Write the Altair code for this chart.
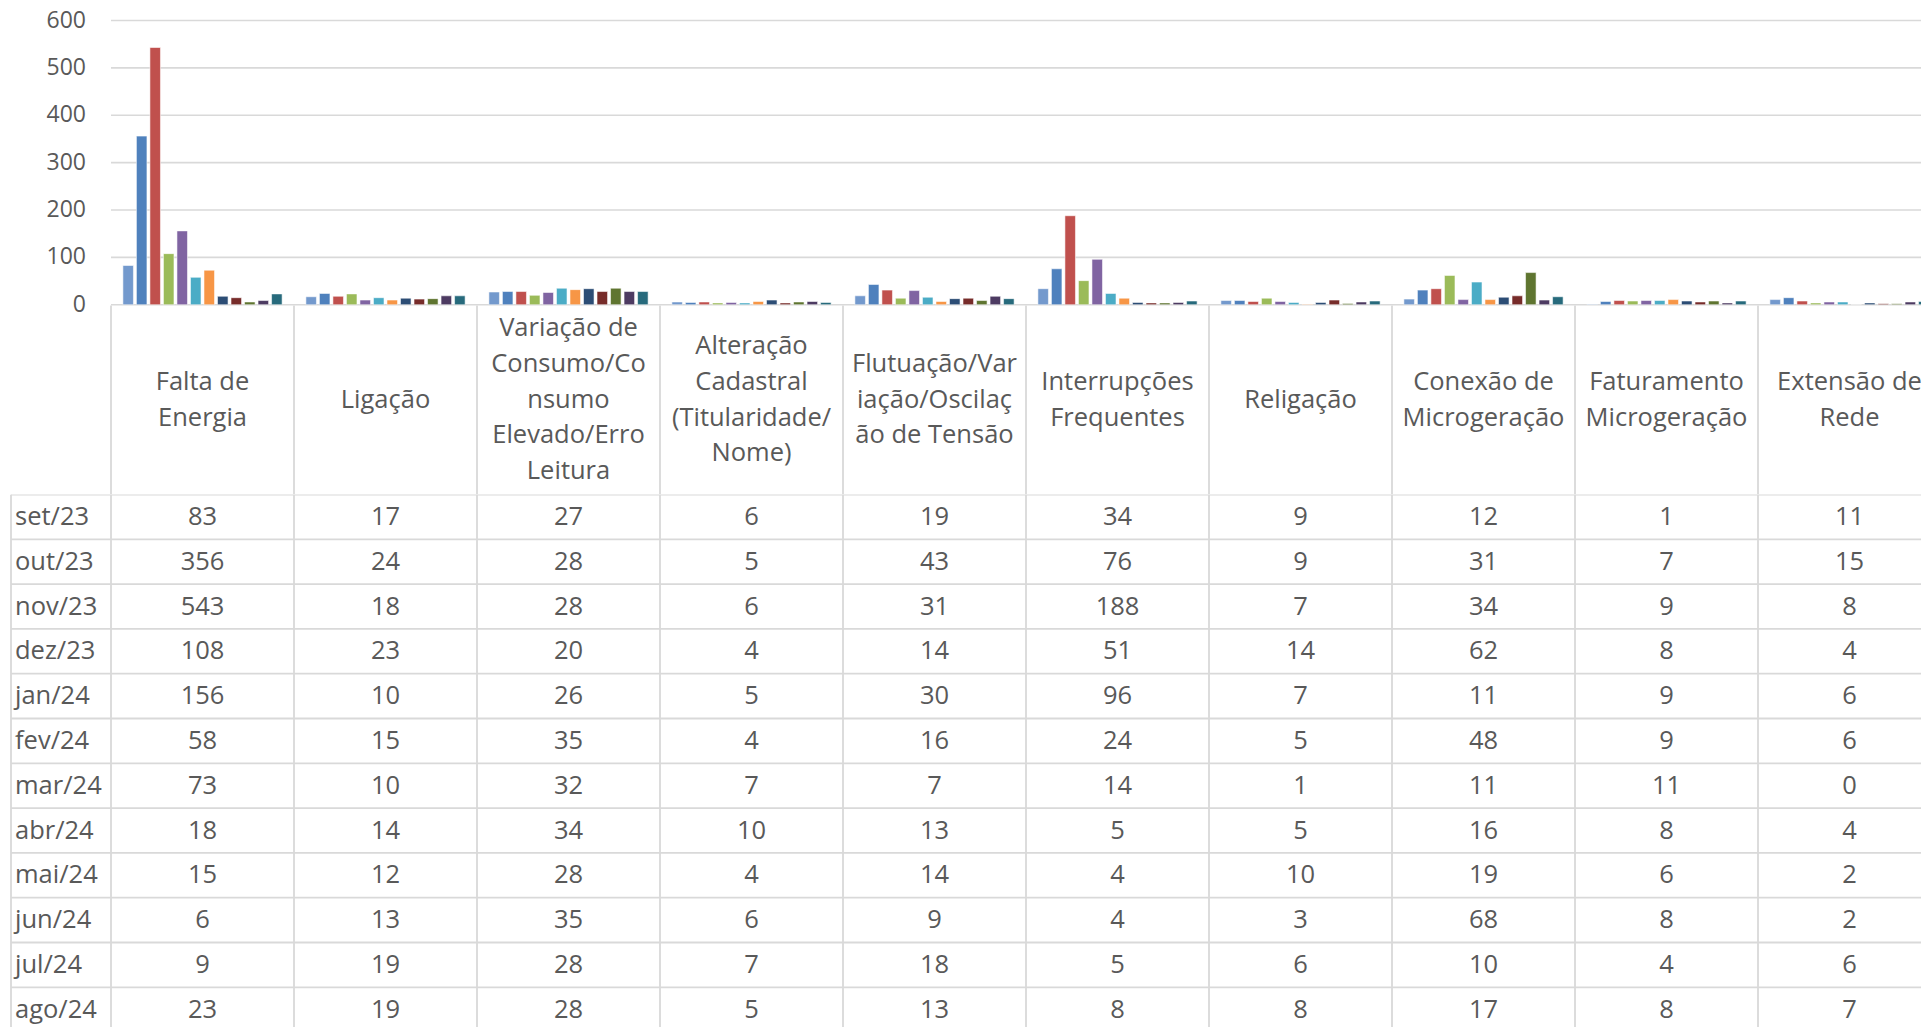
import altair as alt
import pandas as pd

months = ["set/23", "out/23", "nov/23", "dez/23", "jan/24", "fev/24",
          "mar/24", "abr/24", "mai/24", "jun/24", "jul/24", "ago/24"]

# category names with the line breaks used in the table header
categories = [
    "Falta de\nEnergia",
    "Ligação",
    "Variação de\nConsumo/Co\nnsumo\nElevado/Erro\nLeitura",
    "Alteração\nCadastral\n(Titularidade/\nNome)",
    "Flutuação/Var\niação/Oscilaç\não de Tensão",
    "Interrupções\nFrequentes",
    "Religação",
    "Conexão de\nMicrogeração",
    "Faturamento\nMicrogeração",
    "Extensão de\nRede",
]

falta_energia = [83, 356, 543, 108, 156, 58, 73, 18, 15, 6, 9, 23]
ligacao = [17, 24, 18, 23, 10, 15, 10, 14, 12, 13, 19, 19]
variacao_consumo = [27, 28, 28, 20, 26, 35, 32, 34, 28, 35, 28, 28]
alteracao_cadastral = [6, 5, 6, 4, 5, 4, 7, 10, 4, 6, 7, 5]
flutuacao_tensao = [19, 43, 31, 14, 30, 16, 7, 13, 14, 9, 18, 13]
interrupcoes = [34, 76, 188, 51, 96, 24, 14, 5, 4, 4, 5, 8]
religacao = [9, 9, 7, 14, 7, 5, 1, 5, 10, 3, 6, 8]
conexao_micro = [12, 31, 34, 62, 11, 48, 11, 16, 19, 68, 10, 17]
faturamento_micro = [1, 7, 9, 8, 9, 9, 11, 8, 6, 8, 4, 8]
extensao_rede = [11, 15, 8, 4, 6, 6, 0, 4, 2, 2, 6, 7]

series = [falta_energia, ligacao, variacao_consumo, alteracao_cadastral,
          flutuacao_tensao, interrupcoes, religacao, conexao_micro,
          faturamento_micro, extensao_rede]

month_colors = ["#7399CD", "#4F81BD", "#C0504D", "#9BBB59", "#8064A2", "#4BACC6",
                "#F79646", "#2C4D75", "#772C2A", "#5F7530", "#4D3B62", "#276A7C"]

y_ticks = [0, 100, 200, 300, 400, 500, 600]

# ---- tables built from the lists above ----
rows = []
for cat, vals in zip(categories, series):
    for m, v in zip(months, vals):
        rows.append({"cat": cat, "month": m, "value": v})
df = pd.DataFrame(rows)

head_rows = []
for cat in categories:
    parts = cat.split("\n")
    n = len(parts)
    for i, p in enumerate(parts):
        head_rows.append({"cat": cat, "line": p, "pos": i - (n - 1) / 2})
head_df = pd.DataFrame(head_rows)

cat_df = pd.DataFrame({"cat": categories})
month_df = pd.DataFrame({"month": months})
tick_df = pd.DataFrame({"tick": y_ticks})
one_df = pd.DataFrame({"k": [0]})

# ---- style / layout ----
FONT = "Open Sans"
TXT = "#595959"
GRID = "#D9D9D9"
LINE_W = 1.8
LABEL_COL = 101          # width of the row-label column (inside the views)
CAT_W = 183              # width of one category column
VIEW_W = 1911            # visible width
H_BARS = 284.3
H_HEAD = 188.5
LINE_H = 35.7
ROW_H = 44.8
H_BODY_FULL = ROW_H * len(months)
H_BODY_VIEW = H_BODY_FULL
FS = 25.5

x_range = [LABEL_COL, LABEL_COL + CAT_W * len(categories)]


def xcat(pos=None):
    kw = {}
    if pos is not None:
        kw["bandPosition"] = pos
    return alt.X("cat:N", sort=categories,
                 scale=alt.Scale(type="band", domain=categories, range=x_range,
                                 paddingInner=0, paddingOuter=0),
                 axis=None, **kw)


# --- bar chart ---
ybar = alt.Scale(domain=[0, 600], nice=False)

grid = alt.Chart(tick_df).mark_rule(color=GRID, strokeWidth=1.6).encode(
    y=alt.Y("tick:Q", scale=ybar, axis=None),
    x=alt.value(LABEL_COL), x2=alt.value(VIEW_W),
)
tick_labels = alt.Chart(tick_df).mark_text(
    font=FONT, fontSize=23, color=TXT, align="right", baseline="middle"
).encode(
    y=alt.Y("tick:Q", scale=ybar, axis=None),
    x=alt.value(LABEL_COL - 25),
    text="tick:Q",
)
bars = alt.Chart(df).mark_bar(stroke="white", strokeWidth=1, strokeOpacity=0.55,
                              clip=True).encode(
    x=xcat(),
    xOffset=alt.XOffset("month:N", sort=months,
                        scale=alt.Scale(paddingInner=0.22, paddingOuter=0.88)),
    y=alt.Y("value:Q", scale=ybar, axis=None),
    color=alt.Color("month:N", sort=months,
                    scale=alt.Scale(domain=months, range=month_colors), legend=None),
)
bar_chart = alt.layer(grid, tick_labels, bars).properties(width=VIEW_W, height=H_BARS)

# --- header row of the data table ---
half = H_HEAD / 2 / LINE_H
head_rules = alt.Chart(cat_df).mark_rule(color=GRID, strokeWidth=LINE_W).encode(
    x=xcat(0)
)
head_text = alt.Chart(head_df).mark_text(
    font=FONT, fontSize=FS, color=TXT, baseline="middle", align="center"
).encode(
    x=xcat(0.5),
    y=alt.Y("pos:Q", scale=alt.Scale(domain=[-half, half], reverse=True, nice=False,
                                     zero=False), axis=None),
    text="line:N",
)
header = alt.layer(head_rules, head_text).properties(width=VIEW_W, height=H_HEAD)


# --- body of the data table ---
def ymonth(pos):
    return alt.Y("month:N", sort=months,
                 scale=alt.Scale(type="band", domain=months, range=[0, H_BODY_FULL],
                                 paddingInner=0, paddingOuter=0),
                 axis=None, bandPosition=pos)


body_vlines = alt.Chart(cat_df).mark_rule(color=GRID, strokeWidth=LINE_W, clip=True).encode(
    x=xcat(0)
)
body_left = alt.Chart(one_df).mark_rule(color=GRID, strokeWidth=LINE_W, clip=True).encode(
    x=alt.value(1)
)
body_hlines = alt.Chart(month_df).mark_rule(color=GRID, strokeWidth=LINE_W, clip=True).encode(
    y=ymonth(0), x=alt.value(1), x2=alt.value(VIEW_W)
)
body_text = alt.Chart(df).mark_text(
    font=FONT, fontSize=FS, color=TXT, baseline="middle", align="center"
).encode(
    x=xcat(0.5), y=ymonth(0.5), text="value:Q"
)
row_labels = alt.Chart(month_df).mark_text(
    font=FONT, fontSize=FS, color=TXT, baseline="middle", align="left"
).encode(
    x=alt.value(5), y=ymonth(0.5), text="month:N"
)
body = alt.layer(body_vlines, body_left, body_hlines, body_text, row_labels).properties(
    width=VIEW_W, height=H_BODY_VIEW
)

chart = alt.vconcat(bar_chart, header, body, spacing=0, bounds="flush").properties(
    padding={"left": 2, "top": 1.5, "right": 0, "bottom": 0}
).configure(font=FONT).configure_view(strokeWidth=0, stroke="transparent")

chart.save("out.html", embed_options={"renderer": "svg", "actions": False})
